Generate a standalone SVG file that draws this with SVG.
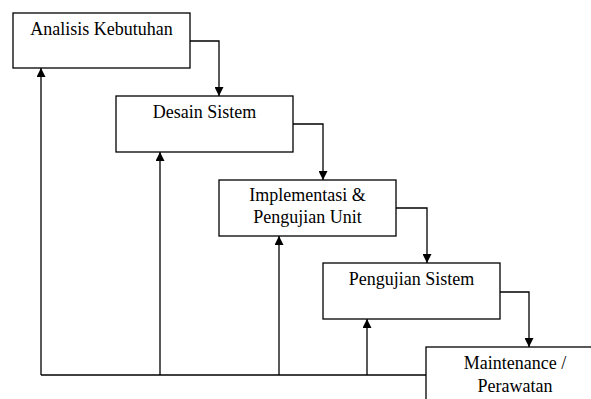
<svg xmlns="http://www.w3.org/2000/svg" width="591" height="399" viewBox="0 0 591 399">
<style>
.box{fill:#fff;stroke:#000;stroke-width:1.3}
.t{font-family:"Liberation Serif",serif;font-size:18px;fill:#000;text-anchor:middle}
.c{fill:none;stroke:#000;stroke-width:1.3}
</style>
<defs>
<marker id="ah" viewBox="0 0 10 10" refX="10" refY="5" markerWidth="10" markerHeight="9" markerUnits="userSpaceOnUse" orient="auto">
<path d="M0,0 L10,5 L0,10 z" fill="#000"/>
</marker>
</defs>
<rect width="591" height="399" fill="#fff"/>
<g id="connectors">
<polyline class="c" points="190,41 219,41 219,96" marker-end="url(#ah)"/>
<polyline class="c" points="293,124 323,124 323,180" marker-end="url(#ah)"/>
<polyline class="c" points="396,208 427,208 427,263" marker-end="url(#ah)"/>
<polyline class="c" points="500,292 529,292 529,347" marker-end="url(#ah)"/>
<line class="c" x1="41" y1="375" x2="426" y2="375"/>
<line class="c" x1="41" y1="375" x2="41" y2="68" marker-end="url(#ah)"/>
<line class="c" x1="160" y1="375" x2="160" y2="152" marker-end="url(#ah)"/>
<line class="c" x1="279" y1="375" x2="279" y2="236" marker-end="url(#ah)"/>
<line class="c" x1="367" y1="375" x2="367" y2="319" marker-end="url(#ah)"/>
</g>
<g id="analisis">
<rect class="box" x="13" y="13" width="177" height="55"/>
<text class="t" x="101.5" y="35">Analisis Kebutuhan</text>
</g>
<g id="desain">
<rect class="box" x="116" y="96" width="177" height="56"/>
<text class="t" x="204.5" y="118">Desain Sistem</text>
</g>
<g id="implementasi">
<rect class="box" x="219" y="180" width="177" height="56"/>
<text class="t" x="307.5" y="201">Implementasi &amp;</text>
<text class="t" x="307.5" y="223">Pengujian Unit</text>
</g>
<g id="pengujian">
<rect class="box" x="323" y="263" width="177" height="56"/>
<text class="t" x="411.5" y="285">Pengujian Sistem</text>
</g>
<g id="maintenance">
<rect class="box" x="426" y="347" width="180" height="60"/>
<text class="t" x="515" y="369">Maintenance /</text>
<text class="t" x="515" y="392">Perawatan</text>
</g>
</svg>
